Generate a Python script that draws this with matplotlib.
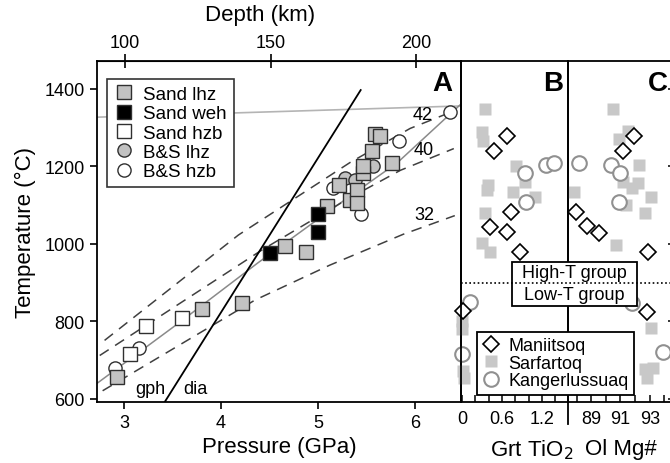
import matplotlib
matplotlib.use("Agg")
import matplotlib.pyplot as plt
import matplotlib.transforms as mtransforms
from matplotlib.lines import Line2D
from matplotlib.patches import Rectangle

plt.rcParams['font.family'] = ['Liberation Sans', 'DejaVu Sans']

# ---------------- data: panel A (P in GPa, T in degC) ----------------
sand_lhz_P = [2.93, 3.80, 4.22, 4.66, 4.88, 5.09, 5.22, 5.33, 5.40, 5.40, 5.46, 5.46, 5.56, 5.59, 5.64, 5.76]
sand_lhz_T = [657, 831, 847, 995, 979, 1099, 1151, 1114, 1140, 1106, 1184, 1200, 1239, 1283, 1278, 1210]
sand_weh_P = [4.51, 5.00, 5.00]
sand_weh_T = [977, 1077, 1030]
sand_hzb_P = [3.06, 3.23, 3.60]
sand_hzb_T = [717, 787, 808]
bs_lhz_P = [5.28, 5.38, 5.57]
bs_lhz_T = [1171, 1166, 1200]
bs_hzb_P = [2.91, 3.16, 5.15, 5.44, 5.84, 6.36]
bs_hzb_T = [680, 732, 1145, 1078, 1265, 1340]

# conductive geotherms (mW/m2)
geo42_P = [2.80, 4.18, 5.33, 5.95, 6.30]
geo42_T = [751, 1023, 1210, 1298, 1333]
geo40_P = [2.75, 4.42, 5.30, 5.85, 6.40]
geo40_T = [712, 984, 1115, 1190, 1246]
geo32_P = [2.78, 4.35, 5.12, 5.88, 6.41]
geo32_T = [621, 855, 945, 1025, 1073]
geo_labels = ['42', '40', '32']
geo_label_P = [6.08, 6.09, 6.10]
geo_label_T = [1335, 1244, 1075]

# best-fit geotherm (grey) and mantle adiabat (light grey)
fit_P = [2.70, 3.56, 4.38, 5.20, 5.82, 6.47]
fit_T = [636, 795, 951, 1100, 1210, 1360]
adiabat_P = [2.72, 6.47]
adiabat_T = [1327, 1356]
# graphite-diamond transition
gd_P = [3.42, 5.44]
gd_T = [592, 1397]

# ---------------- data: panels B (garnet TiO2 wt%) and C (olivine Mg#) ----------------
man_TiO2 = [0.67, 0.48, 0.73, 0.42, 0.67, 0.87, 0.01]
man_TiO2_T = [1278, 1239, 1083, 1044, 1031, 980, 826]
sar_TiO2 = [0.34, 0.30, 0.31, 0.81, 0.94, 0.39, 0.38, 0.77, 1.09, 0.34, 0.30, 0.42, 0.00, 0.00, 0.01, 0.03]
sar_TiO2_T = [1348, 1288, 1265, 1200, 1161, 1153, 1140, 1135, 1122, 1081, 1003, 979, 800, 780, 673, 655]
kan_TiO2 = [0.94, 1.26, 1.38, 0.96, 0.12, 0.00]
kan_TiO2_T = [1184, 1203, 1210, 1109, 849, 717]

man_Mg = [91.9, 91.14, 87.97, 88.7, 89.55, 92.86, 92.8]
man_Mg_T = [1278, 1239, 1083, 1047, 1029, 980, 823]
sar_Mg = [90.52, 90.93, 91.48, 92.24, 91.14, 91.76, 92.17, 93.1, 87.83, 91.4, 92.7, 90.7, 93.1, 92.66, 93.2, 92.8]
sar_Mg_T = [1348, 1270, 1291, 1203, 1161, 1145, 1158, 1122, 1133, 1100, 1081, 998, 784, 678, 681, 655]
kan_Mg = [88.17, 90.38, 91.0, 90.93, 91.76, 93.9]
kan_Mg_T = [1210, 1203, 1184, 1109, 847, 720]

group_boundary_T = 900

P_ticks = [3, 4, 5, 6]
T_ticks = [600, 800, 1000, 1200, 1400]
depth_ticks = [100, 150, 200]
km_per_GPa = 33.25
tio2_labels = [0, 0.6, 1.2]
mg_labels = [89, 91, 93]

# ---------------- figure ----------------
W, H = 670, 464
fig = plt.figure(figsize=(W / 100, H / 100), dpi=100)
top, bot = 62, 403
def rect(x0, x1):
    return [x0 / W, 1 - bot / H, (x1 - x0) / W, (bot - top) / H]

axA = fig.add_axes(rect(97, 461))
axB = fig.add_axes(rect(461, 568))
axC = fig.add_axes(rect(568, 674))
for ax in (axA, axB, axC):
    ax.set_ylim(592, 1472)
    for s in ax.spines.values():
        s.set_linewidth(1.3)
    ax.patch.set_visible(False)

fs_tick = 13
fs_lab = 16

# ---- panel A ----
axA.set_xlim(2.722, 6.474)
axA.plot(adiabat_P, adiabat_T, color='#b4b4b4', lw=1.2, zorder=1)
axA.plot(fit_P, fit_T, color='#8a8a8a', lw=1.1, zorder=1)
for gp, gt in ((geo42_P, geo42_T), (geo40_P, geo40_T), (geo32_P, geo32_T)):
    axA.plot(gp, gt, color='#404040', lw=1.1, ls=(0, (7, 5)), zorder=1)
axA.plot(gd_P, gd_T, color='black', lw=1.3, zorder=1)
for lab, lp, lt in zip(geo_labels, geo_label_P, geo_label_T):
    axA.text(lp, lt, lab, fontsize=13, ha='center', va='center', zorder=2)
axA.text(3.27, 626, 'gph', fontsize=13, ha='center', va='center')
axA.text(3.74, 626, 'dia', fontsize=13, ha='center', va='center')

mk = dict(ls='none', mew=1.0, mec='#303030', zorder=3)
axA.plot(bs_hzb_P, bs_hzb_T, marker='o', ms=9.5, mfc='white', label='B&S hzb', **mk)
axA.plot(bs_lhz_P, bs_lhz_T, marker='o', ms=9.5, mfc='#c2c2c2', label='B&S lhz', **mk)
axA.plot(sand_lhz_P, sand_lhz_T, marker='s', ms=10, mfc='#c2c2c2', label='Sand lhz', **mk)
axA.plot(sand_weh_P, sand_weh_T, marker='s', ms=10, mfc='black', label='Sand weh', **mk)
axA.plot(sand_hzb_P, sand_hzb_T, marker='s', ms=10, mfc='white', label='Sand hzb', **mk)
handles, labels = axA.get_legend_handles_labels()
order = ['Sand lhz', 'Sand weh', 'Sand hzb', 'B&S lhz', 'B&S hzb']
hd = dict(zip(labels, handles))
legA = axA.legend([hd[k] for k in order], order, loc='upper left',
                  bbox_to_anchor=(0.027, 0.947), borderaxespad=0, fontsize=13.5,
                  fancybox=False, framealpha=1, edgecolor='#333333',
                  handlelength=1.1, handletextpad=0.5, labelspacing=0.12,
                  borderpad=0.35)
legA.get_frame().set_linewidth(1.2)
legA.set_zorder(5)

axA.set_xticks(P_ticks)
axA.set_yticks(T_ticks)
axA.tick_params(direction='out', length=5, width=1.2, labelsize=fs_tick, pad=4)
axA.set_xlabel('Pressure (GPa)', fontsize=fs_lab, labelpad=3)
axA.set_ylabel('Temperature (°C)', fontsize=fs_lab, labelpad=6)
axA.text(0.975, 0.975, 'A', transform=axA.transAxes, ha='right', va='top',
         fontsize=20, fontweight='bold')

secA = axA.secondary_xaxis('top', functions=(lambda p: p * km_per_GPa, lambda d: d / km_per_GPa))
secA.set_xticks(depth_ticks)
secA.tick_params(direction='inout', length=10, width=1.2, labelsize=fs_tick, pad=2)
fig.text(260 / W, 1 - 16 / H, 'Depth (km)', ha='center', va='center', fontsize=fs_lab)

# ---- panels B and C ----
sq = dict(ls='none', marker='s', ms=8.2, mfc='#c8c8c8', mec='none', zorder=1.8, clip_on=False)
ci = dict(ls='none', marker='o', ms=10.5, mfc='white', mec='#909090', mew=1.5, zorder=1.9, clip_on=False)
di = dict(ls='none', marker='D', ms=7.8, mfc='white', mec='black', mew=1.2, zorder=2.0, clip_on=False)

axB.set_xlim(-0.015, 1.59)
hs, = axB.plot(sar_TiO2, sar_TiO2_T, label='Sarfartoq', **sq)
hk, = axB.plot(kan_TiO2, kan_TiO2_T, label='Kangerlussuaq', **ci)
hm, = axB.plot(man_TiO2, man_TiO2_T, label='Maniitsoq', **di)
axB.set_xticks(tio2_labels)
axB.set_xticks([0.2, 0.4, 0.8, 1.0, 1.4], minor=True)
axB.set_xticklabels(['0', '0.6', '1.2'])
axB.tick_params(axis='x', which='both', direction='in', length=5, width=1.1, labelsize=fs_tick, pad=6)
axB.tick_params(axis='y', left=False, labelleft=False)
axB.set_xlabel('Grt TiO$_2$', fontsize=fs_lab, labelpad=3)
axB.xaxis.set_label_coords(0.66, -0.105)
axB.text(0.95, 0.975, 'B', transform=axB.transAxes, ha='right', va='top',
         fontsize=20, fontweight='bold')

axC.set_xlim(87.41, 94.66)
axC.plot(sar_Mg, sar_Mg_T, **sq)
axC.plot(kan_Mg, kan_Mg_T, **ci)
axC.plot(man_Mg, man_Mg_T, **di)
axC.set_xticks(mg_labels)
axC.set_xticks([88, 90, 92, 94], minor=True)
axC.tick_params(axis='x', which='both', direction='in', length=5, width=1.1, labelsize=fs_tick, pad=6)
axC.yaxis.set_ticks_position('right')
axC.set_yticks(T_ticks)
axC.tick_params(axis='y', direction='in', length=4.5, width=1.1, labelright=False, labelleft=False)
axC.set_xlabel('Ol Mg#', fontsize=fs_lab, labelpad=3)
axC.xaxis.set_label_coords(0.5, -0.105)
axC.text(0.94, 0.975, 'C', transform=axC.transAxes, ha='right', va='top',
         fontsize=20, fontweight='bold')

# divider between B and C extends below the axis
fig.add_artist(Line2D([568 / W, 568 / W], [1 - bot / H, 1 - 425 / H], color='black', lw=1.3))

# group box and dotted boundary
box = Rectangle((512 / W, 1 - 307 / H), (637 - 512) / W, (307 - 263) / H,
                transform=fig.transFigure, facecolor='white', edgecolor='black', lw=1.3, zorder=4)
fig.add_artist(box)
blend = mtransforms.blended_transform_factory(fig.transFigure, axB.transData)
fig.add_artist(Line2D([461 / W, 674 / W], [group_boundary_T, group_boundary_T], transform=blend,
                      color='black', lw=1.2, ls=(0, (1, 1.5)), zorder=4.5))
fig.text(574.5 / W, 1 - 274 / H, 'High-T group', ha='center', va='center', fontsize=13, zorder=5)
fig.text(574.5 / W, 1 - 296 / H, 'Low-T group', ha='center', va='center', fontsize=13, zorder=5)

leg2 = fig.legend([hm, hs, hk], ['Maniitsoq', 'Sarfartoq', 'Kangerlussuaq'], loc='upper left',
                  bbox_to_anchor=(477 / W, 1 - 333 / H), bbox_transform=fig.transFigure,
                  borderaxespad=0, fontsize=13, fancybox=False, framealpha=1, edgecolor='black',
                  handlelength=1.0, handletextpad=0.45, labelspacing=0.02, borderpad=0.3)
leg2.get_frame().set_linewidth(1.3)
leg2.set_zorder(6)

fig.savefig('out.png', dpi=100)
